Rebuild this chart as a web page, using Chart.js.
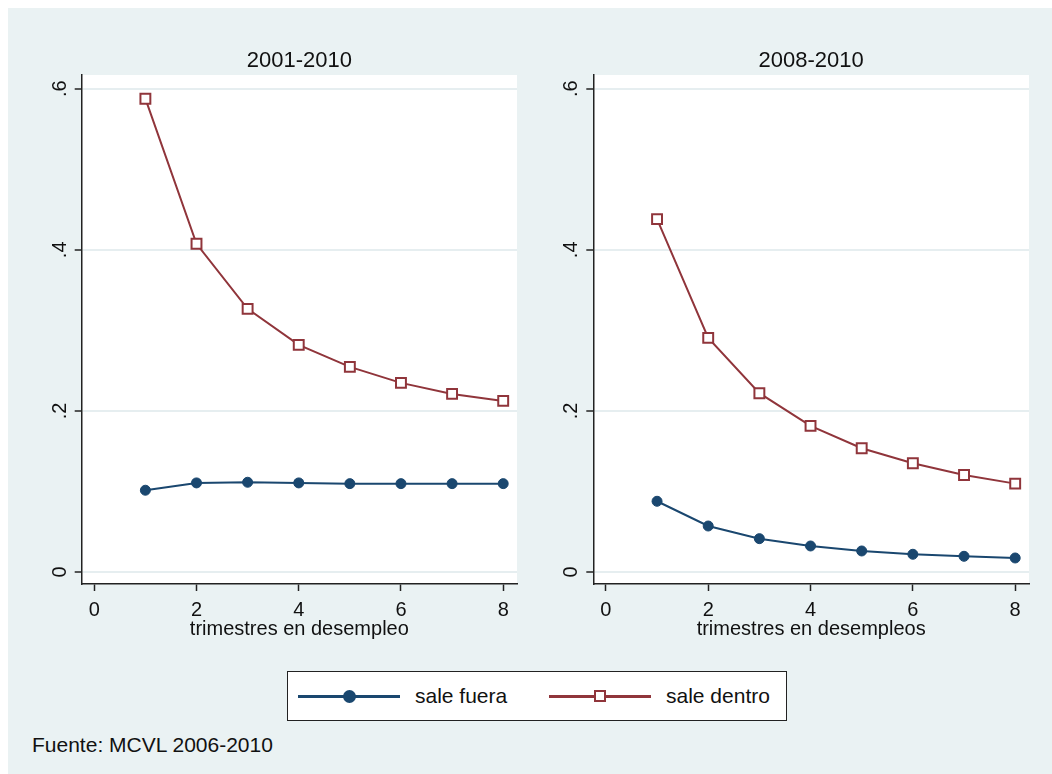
<!DOCTYPE html>
<html>
<head>
<meta charset="utf-8">
<script src="https://cdn.jsdelivr.net/npm/chart.js@4"></script>
<style>
body{margin:0;background:#fff;font-family:"Liberation Sans",Arial,sans-serif;}
#bg{position:absolute;left:8px;top:8px;width:1044px;height:766px;background:#EAF2F3;}
canvas{position:absolute;top:0;}
#c1{left:0;}
#c2{left:526px;}
#legend{position:absolute;left:287px;top:671px;width:498px;height:48px;border:1.5px solid #222;background:#fff;}
.lline{position:absolute;height:3px;top:23px;width:102px;}
.ltext{position:absolute;top:12px;font-size:21px;line-height:24px;color:#111;white-space:nowrap;}
#footer{position:absolute;left:32px;top:733px;font-size:21px;line-height:24px;color:#111;}
</style>
</head>
<body>
<div id="bg"></div>
<canvas id="c1" width="526" height="650"></canvas>
<canvas id="c2" width="526" height="650"></canvas>
<div id="legend">
  <div class="lline" style="left:10px;background:#1A476F"></div>
  <div style="position:absolute;left:55px;top:18px;width:13px;height:13px;border-radius:50%;background:#1A476F"></div>
  <div class="ltext" id="lab1" style="left:127px"></div>
  <div class="lline" style="left:261px;background:#90353B"></div>
  <div style="position:absolute;left:306px;top:18px;width:8px;height:8px;border:2.5px solid #90353B;background:#fff"></div>
  <div class="ltext" id="lab2" style="left:378px"></div>
</div>
<div id="footer"></div>
<script>
// datos
var trimestres = [1, 2, 3, 4, 5, 6, 7, 8];
var fuera_0110 = [0.1015, 0.1106, 0.1114, 0.1106, 0.1097, 0.1097, 0.1097, 0.1097];
var dentro_0110 = [0.5876, 0.4075, 0.3267, 0.2820, 0.2547, 0.2348, 0.2211, 0.2124];
var fuera_0810 = [0.0878, 0.0571, 0.0414, 0.0323, 0.0261, 0.0220, 0.0195, 0.0174];
var dentro_0810 = [0.4381, 0.2907, 0.2220, 0.1814, 0.1536, 0.1350, 0.1205, 0.1097];
var yTickValues = [0, 0.2, 0.4, 0.6];
var yTickLabels = ["0", ".2", ".4", ".6"];
var xTickValues = [0, 2, 4, 6, 8];
var seriesNames = ["sale fuera", "sale dentro"];
var panelTitles = ["2001-2010", "2008-2010"];
var xTitles = ["trimestres en desempleo", "trimestres en desempleos"];
var footerText = "Fuente: MCVL 2006-2010";

var FONT = '"Liberation Sans", Arial, sans-serif';
var navy = '#1A476F';
var maroon = '#90353B';

document.getElementById('lab1').textContent = seriesNames[0];
document.getElementById('lab2').textContent = seriesNames[1];
document.getElementById('footer').textContent = footerText;

const plotBg = {
  id: 'plotBg',
  beforeDraw(chart) {
    const a = chart.chartArea, ctx = chart.ctx;
    ctx.save();
    ctx.fillStyle = '#fff';
    ctx.fillRect(a.left, a.top, a.right - a.left, a.bottom - a.top);
    ctx.restore();
  }
};

// etiquetas del eje y giradas, como en Stata
const yLabels = {
  id: 'yLabels',
  afterDraw(chart) {
    const ctx = chart.ctx, sc = chart.scales.y;
    const x0 = chart.chartArea.left - 21.5;
    ctx.save();
    ctx.font = '20px ' + FONT;
    ctx.fillStyle = '#111';
    ctx.textAlign = 'center';
    ctx.textBaseline = 'middle';
    for (var i = 0; i < yTickValues.length; i++) {
      var py = sc.getPixelForValue(yTickValues[i]);
      ctx.save();
      ctx.translate(x0, py);
      ctx.rotate(-Math.PI / 2);
      ctx.fillText(yTickLabels[i], 0, 0);
      ctx.restore();
    }
    ctx.restore();
  }
};

function toPoints(ys) {
  return trimestres.map(function (t, i) { return {x: t, y: ys[i]}; });
}

function makePanel(id, title, xTitle, fuera, dentro, yWidth, padRight) {
  return new Chart(document.getElementById(id), {
    type: 'line',
    data: {
      datasets: [{
        label: seriesNames[0],
        data: toPoints(fuera),
        borderColor: navy,
        backgroundColor: navy,
        borderWidth: 2,
        pointRadius: 5,
        pointBorderWidth: 1,
        pointBackgroundColor: navy
      }, {
        label: seriesNames[1],
        data: toPoints(dentro),
        borderColor: maroon,
        backgroundColor: '#fff',
        borderWidth: 2,
        pointStyle: 'rect',
        pointRadius: 7,
        pointBorderWidth: 2,
        pointBackgroundColor: '#fff'
      }]
    },
    options: {
      responsive: false,
      animation: false,
      layout: {padding: {top: 0, left: 0, right: padRight, bottom: 0}},
      plugins: {
        legend: {display: false},
        tooltip: {enabled: false},
        title: {
          display: true,
          text: title,
          fullSize: false,
          color: '#111',
          font: {family: FONT, size: 22, weight: 'normal', lineHeight: 1.2},
          padding: {top: 47.5, bottom: 1.1}
        }
      },
      scales: {
        x: {
          type: 'linear',
          min: -0.246,
          max: 8.27,
          afterBuildTicks: function (s) { s.ticks = xTickValues.map(function (v) { return {value: v}; }); },
          afterFit: function (s) { s.height = 66; },
          ticks: {color: '#111', font: {family: FONT, size: 20}, padding: 7, maxRotation: 0,
                  callback: function (v) { return String(v); }},
          grid: {drawOnChartArea: false, tickLength: 7, tickColor: '#222', tickWidth: 1.5},
          border: {color: '#222', width: 1.5},
          title: {display: true, text: xTitle, color: '#111',
                  font: {family: FONT, size: 20, lineHeight: 1.2}, padding: {top: 0, bottom: 9}}
        },
        y: {
          min: -0.0149,
          max: 0.617,
          afterBuildTicks: function (s) { s.ticks = yTickValues.map(function (v) { return {value: v}; }); },
          afterFit: function (s) { s.width = yWidth; },
          ticks: {display: false},
          grid: {color: '#E6EEF0', lineWidth: 2, tickLength: 7, tickColor: '#222', tickWidth: 1.5},
          border: {color: '#222', width: 1.5}
        }
      }
    },
    plugins: [plotBg, yLabels]
  });
}

makePanel('c1', panelTitles[0], xTitles[0], fuera_0110, dentro_0110, 81.7, 8.3);
makePanel('c2', panelTitles[1], xTitles[1], fuera_0810, dentro_0810, 67.3, 23);
</script>
</body>
</html>
